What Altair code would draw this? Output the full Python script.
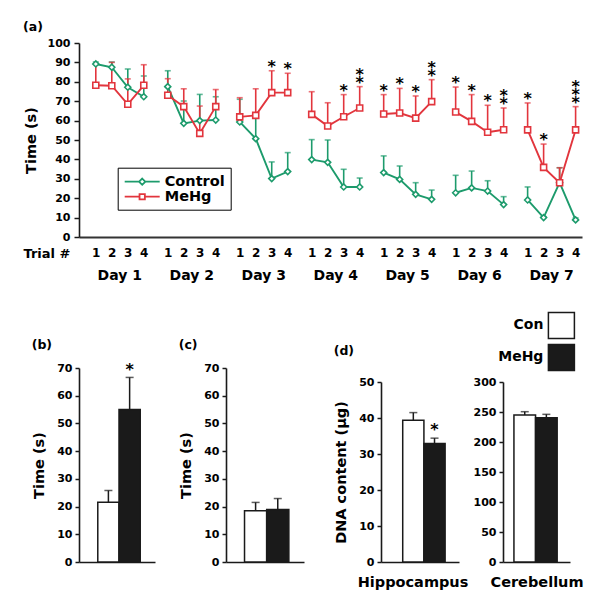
import altair as alt
import pandas as pd

FONT = "DejaVu Sans"
GREEN = "#1d9b6c"
RED = "#e2353d"
INK = "#1a1a1a"

# ---------------- panel (a) data ----------------
days = [1, 2, 3, 4, 5, 6, 7]
trials = [1, 2, 3, 4]
groups = ["Control", "MeHg"]

control_mean = [89.2, 87.5, 77.2, 72.3,
                77.5, 58.6, 60.0, 60.3,
                59.3, 50.7, 30.1, 33.7,
                39.9, 38.5, 25.8, 25.8,
                33.2, 29.7, 22.0, 19.4,
                22.8, 25.3, 23.7, 16.7,
                19.1, 10.0, 28.0, 8.8]
control_sem = [1.0, 2.7, 9.4, 10.7,
               8.2, 11.5, 13.5, 12.0,
               11.7, 12.0, 8.6, 9.8,
               10.3, 11.5, 9.1, 4.6,
               8.6, 6.9, 6.0, 4.8,
               9.0, 8.7, 5.3, 4.1,
               6.7, 0.5, 7.7, 1.0]
mehg_mean = [78.2, 78.0, 68.4, 78.2,
             73.1, 67.2, 53.4, 67.2,
             61.9, 62.7, 74.4, 74.4,
             63.2, 57.2, 62.0, 66.5,
             63.4, 63.9, 61.3, 69.8,
             64.4, 59.6, 54.0, 55.3,
             55.2, 35.9, 28.0, 55.2]
mehg_sem = [10.8, 12.0, 13.1, 10.6,
            8.5, 9.2, 14.1, 8.8,
            9.9, 13.7, 11.3, 10.0,
            11.7, 12.0, 11.4, 11.0,
            10.0, 12.7, 11.4, 11.3,
            12.9, 13.8, 13.9, 11.2,
            13.9, 12.0, 7.7, 12.0]
mehg_stars = [0, 0, 0, 0,
              0, 0, 0, 0,
              0, 0, 1, 1,
              0, 0, 1, 2,
              1, 1, 1, 2,
              1, 1, 1, 2,
              1, 1, 0, 3]
control_stars = [0] * 28

# ---------------- panels (b)-(d) data ----------------
bar_groups = ["Con", "MeHg"]
b_mean = [21.6, 55.0]
b_sem = [4.2, 11.6]
b_star = [0, 1]
c_mean = [18.5, 18.9]
c_sem = [3.0, 4.0]
c_star = [0, 0]
hippo_mean = [39.4, 32.9]
hippo_sem = [2.1, 1.5]
hippo_star = [0, 1]
cereb_mean = [245.0, 240.6]
cereb_sem = [5.5, 5.5]
cereb_star = [0, 0]

DAY_GAP = 4.5
A_W, A_H = 503, 194
PH = 194

rows = []
for g, means, sems, stars in [("Control", control_mean, control_sem, control_stars),
                              ("MeHg", mehg_mean, mehg_sem, mehg_stars)]:
    for k, (m, s, st) in enumerate(zip(means, sems, stars)):
        d = days[k // 4]
        t = trials[k % 4]
        rows.append(dict(group=g, day=d, trial=t, pos=(d - 1) * DAY_GAP + (t - 1),
                         mean=m, top=m + s, stars=st, star_text="\n".join(["*"] * st)))
df_a = pd.DataFrame(rows)
df_days = pd.DataFrame({"label": [f"Day {d}" for d in days],
                        "pos": [(d - 1) * DAY_GAP + 1.5 for d in days]})
tick_pos = [(d - 1) * DAY_GAP + (t - 1) for d in days for t in trials]

bold = dict(font=FONT, fontWeight="bold")

x_axis_a = alt.Axis(values=tick_pos,
                    labelExpr="format(round(datum.value - floor(datum.value / 4.5 + 0.001) * 4.5) + 1, 'd')",
                    ticks=False, title=None, labelFontSize=12, labelPadding=10,
                    domainWidth=2.2, domainColor="#333333", labelAngle=0)
x_a = alt.X("pos:Q", scale=alt.Scale(domain=[-1.05, 30.4], nice=False, zero=False), axis=x_axis_a)
y_scale_a = alt.Scale(domain=[0, 100], nice=False)
y_axis_a = alt.Axis(values=list(range(0, 101, 10)), title="Time (s)", tickSize=5,
                    labelPadding=4, titlePadding=9)


def ya(field):
    return alt.Y(f"{field}:Q", scale=y_scale_a, axis=y_axis_a)


base_a = alt.Chart(df_a)
layers = []
styles = [("Control", GREEN, "diamond", 36), ("MeHg", RED, "square", 36)]
for g, col, shp, sz in styles:
    b = base_a.transform_filter(alt.datum.group == g)
    layers.append(b.mark_rule(color=col, strokeWidth=1.6).encode(x=x_a, y=ya("mean"), y2="top:Q"))
    layers.append(b.mark_tick(color=col, thickness=1.6, size=6, orient="horizontal").encode(x=x_a, y=ya("top")))
for g, col, shp, sz in styles:
    b = base_a.transform_filter(alt.datum.group == g)
    layers.append(b.mark_line(color=col, strokeWidth=1.9).encode(x=x_a, y=ya("mean"), detail="day:N"))
for g, col, shp, sz in styles:
    b = base_a.transform_filter(alt.datum.group == g)
    layers.append(b.mark_point(shape=shp, filled=True, fill="white", stroke=col, strokeWidth=1.6,
                               size=sz, opacity=1).encode(x=x_a, y=ya("mean")))

for n in (1, 2, 3):
    layers.append(base_a.transform_filter(f"datum.stars == {n}")
                  .mark_text(fontSize=16, baseline="top", dy=-12 - 8 * (n - 1), lineBreak="\n",
                             lineHeight=8, color="black", **bold)
                  .encode(x=x_a, y=ya("top"), text="star_text:N"))

layers.append(alt.Chart(df_days).mark_text(fontSize=14, baseline="middle", color="black", **bold)
              .encode(x=x_a, y=alt.value(233), text="label:N"))
layers.append(alt.Chart(pd.DataFrame({"t": ["Trial #"]}))
              .mark_text(fontSize=13, baseline="middle", color="black", **bold)
              .encode(x=alt.value(-32), y=alt.value(211), text="t:N"))

path_control = "M-1,0H1.05M1.95,0H4M1.5,-0.45L1.95,0L1.5,0.45L1.05,0Z"
path_mehg = "M-1,0H1.12M1.88,0H4M1.12,-0.38H1.88V0.38H1.12Z"
leg_a = alt.Legend(title=None, orient="none", legendX=38.7, legendY=124.7,
                   strokeColor="black", fillColor="white", padding=6,
                   symbolSize=196, symbolStrokeWidth=1.8, symbolOpacity=1,
                   labelOffset=25, labelFontSize=14.5, labelFont=FONT, labelFontWeight="bold",
                   labelColor="black", rowPadding=0)
layers.append(base_a.transform_filter("false").mark_point(filled=False, strokeWidth=1.8)
              .encode(x=x_a, y=ya("mean"),
                      color=alt.Color("group:N", scale=alt.Scale(domain=groups, range=[GREEN, RED]), legend=leg_a),
                      shape=alt.Shape("group:N", scale=alt.Scale(domain=groups, range=[path_control, path_mehg]),
                                      legend=leg_a)))

panel_a = alt.layer(*layers).properties(
    width=A_W, height=A_H,
    title=alt.TitleParams("(a)", anchor="start", frame="bounds", offset=4, fontSize=12.5,
                          color="black", **bold))


def bar_panel(vals, sems, stars, ymax, ystep, width, pad_outer, align, ytitle,
              xtitle=None, title=None, legend=None, top_gap=0, title_x=None, star_dy=-2):
    df = pd.DataFrame({"group": bar_groups, "value": vals,
                       "top": [v + s for v, s in zip(vals, sems)], "star": stars})
    ax_kw = dict(labels=False, ticks=False, titlePadding=13, domainWidth=1.6)
    ax_kw["title"] = xtitle if xtitle else None
    if title_x is not None:
        ax_kw["titleX"] = title_x
    x = alt.X("group:N", scale=alt.Scale(domain=bar_groups, paddingInner=0, paddingOuter=pad_outer, align=align),
              axis=alt.Axis(**ax_kw))
    yscale = alt.Scale(domain=[0, ymax], nice=False, range=[PH, top_gap])
    yaxis = alt.Axis(values=list(range(0, ymax + 1, ystep)), title=ytitle, tickSize=4,
                     labelPadding=3, titlePadding=10)

    def y(f):
        return alt.Y(f"{f}:Q", scale=yscale, axis=yaxis)

    fill = alt.Fill("group:N", scale=alt.Scale(domain=bar_groups, range=["white", INK]), legend=legend)
    base = alt.Chart(df)
    bars = base.mark_bar(stroke=INK, strokeWidth=1.5).encode(x=x, y=y("value"), fill=fill)
    rule = base.mark_rule(color=INK, strokeWidth=1.5).encode(x=x, y=y("value"), y2="top:Q")
    cap = base.mark_tick(color=INK, thickness=1.5, size=8, orient="horizontal").encode(x=x, y=y("top"))
    star = (base.transform_filter("datum.star > 0")
            .mark_text(text="*", fontSize=16, baseline="alphabetic", dy=star_dy, color="black", **bold)
            .encode(x=x, y=y("top")))
    props = dict(width=width, height=PH)
    if title:
        props["title"] = alt.TitleParams(title, anchor="start", frame="bounds", offset=11,
                                         fontSize=12.5, color="black", **bold)
    return alt.layer(bars, rule, cap, star).properties(**props)


leg_d = alt.Legend(title=None, orient="none", legendX=44.4, legendY=-56.6, symbolType="square",
                   symbolSize=676, symbolStrokeColor=INK, symbolStrokeWidth=1.5, symbolOpacity=1,
                   labelAlign="right", labelOffset={"expr": "-32"}, rowPadding=0, padding=0,
                   labelFont=FONT, labelFontSize=14, labelFontWeight="bold", labelColor="black")

panel_b = bar_panel(b_mean, b_sem, b_star, 70, 10, 76, 0.79, 0.56, "Time (s)", title="(b)")
panel_c = bar_panel(c_mean, c_sem, c_star, 70, 10, 78, 0.76, 0.55, "Time (s)", title="(c)")
panel_d1 = bar_panel(hippo_mean, hippo_sem, hippo_star, 50, 10, 78, 0.84, 0.61, "DNA content (μg)",
                     xtitle="Hippocampus", title="(d)", top_gap=14, title_x=31.5, star_dy=-3)
panel_d2 = bar_panel(cereb_mean, cereb_sem, cereb_star, 300, 50, 67, 0.55, 0.46, None,
                     xtitle="Cerebellum", legend=leg_d, top_gap=14)

left_pair = alt.hconcat(panel_b, panel_c, spacing=23).resolve_scale(fill="independent")
right_pair = alt.hconcat(panel_d1, panel_d2, spacing=5).resolve_scale(fill="independent")
bottom = alt.hconcat(left_pair, right_pair, spacing=29).resolve_scale(fill="independent")

chart = (alt.vconcat(panel_a, bottom, spacing=28)
         .resolve_scale(fill="independent")
         .properties(padding={"left": 15, "top": 12, "right": 2, "bottom": 2})
         .configure_view(stroke=None)
         .configure_axis(labelFont=FONT, labelFontWeight="bold", labelFontSize=11, labelColor="black",
                         titleFont=FONT, titleFontWeight="bold", titleFontSize=14.5, titleColor="black",
                         domainColor=INK, domainWidth=1.6, tickColor=INK, tickWidth=1.5, grid=False))

chart.save("out.html", embed_options={"renderer": "svg", "actions": False})
